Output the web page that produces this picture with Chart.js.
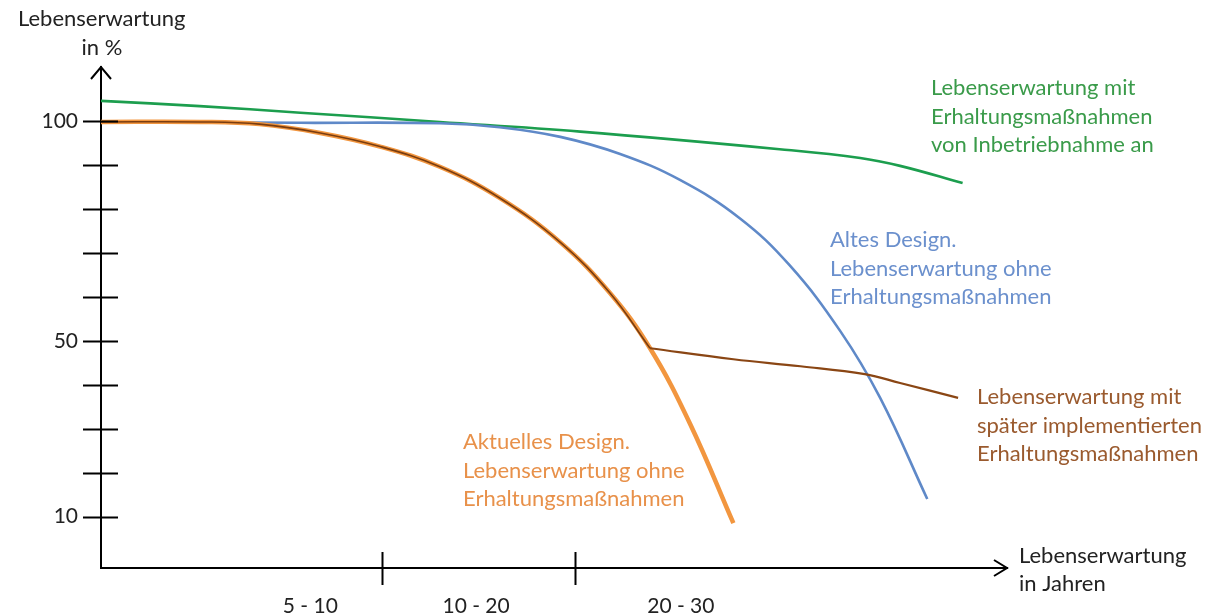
<!DOCTYPE html>
<html lang="de">
<head>
<meta charset="utf-8">
<title>Lebenserwartung</title>
<script src="https://cdn.jsdelivr.net/npm/chart.js@4.4.1/dist/chart.umd.min.js"></script>
<style>
  html, body { margin: 0; padding: 0; background: #fff; }
  #wrap { width: 1212px; height: 614px; position: relative; }
</style>
</head>
<body>
<div id="wrap"><canvas id="lifeChart"></canvas></div>
<script>
// x = time since commissioning (schematic units, 0..100), y = life expectancy in %
const greenX = [0, 10.9, 22.0, 37.4, 52.9, 74.9, 83.8, 88.2, 95.1];
const greenY = [104.6, 103.4, 101.9, 99.8, 97.6, 93.6, 91.6, 89.8, 85.9];

const blueX = [0, 22.0, 37.4, 44.0, 50.7, 57.3, 63.9, 70.5, 76.0, 81.6, 86.0, 91.2];
const blueY = [99.8, 99.6, 99.5, 98.6, 96.4, 92.5, 86.6, 77.9, 67.2, 52.2, 37.0, 14.0];

const orangeX = [0, 10.9, 17.5, 24.2, 30.8, 37.4, 44.0, 50.7, 56.2, 60.6, 65.0, 69.8];
const orangeY = [99.8, 99.8, 99.3, 97.3, 94.2, 89.6, 82.5, 72.4, 60.8, 48.3, 31.2, 8.5];

// brown follows the orange curve until maintenance starts, then flattens
const brownStart = 9; // index in orange arrays where maintenance begins
const brownLateX = [60.6, 69.8, 77.2, 84.3, 88.2, 94.6];
const brownLateY = [48.3, 45.8, 44.2, 42.4, 40.4, 37.0];

// axis ticks
const yMarks = [10, 20, 30, 40, 50, 60, 70, 80, 90, 100];
const yTickLabels = [10, 50, 100];
const xBounds = [31.0, 52.3];
const xTickPos = [23.1, 41.4, 64.0];
const xTickLabels = ['5 - 10', '10 - 20', '20 - 30'];

const FONT = 'Lato, "Open Sans", sans-serif';

function pts(xs, ys) {
    return xs.map((x, i) => ({ x: x, y: ys[i] }));
}

const notes = [
    { lines: ['Lebenserwartung mit', 'Erhaltungsmaßnahmen', 'von Inbetriebnahme an'], color: '#3a9b4a', x: 931, y: 88 },
    { lines: ['Altes Design.', 'Lebenserwartung ohne', 'Erhaltungsmaßnahmen'], color: '#6b90cd', x: 830, y: 240 },
    { lines: ['Lebenserwartung mit', 'später implementierten', 'Erhaltungsmaßnahmen'], color: '#9a5a2e', x: 977, y: 397 },
    { lines: ['Aktuelles Design.', 'Lebenserwartung ohne', 'Erhaltungsmaßnahmen'], color: '#e8914a', x: 463, y: 442 }
];

// axis arrows, crossing tick marks, titles and curve captions
const decorPlugin = {
    id: 'decor',
    afterDraw(chart) {
        const ctx = chart.ctx;
        const a = chart.chartArea;
        const xs = chart.scales.x;
        const ys = chart.scales.y;
        ctx.save();
        ctx.strokeStyle = '#000';
        ctx.lineWidth = 2;
        ctx.beginPath();
        yMarks.forEach(v => {
            const py = Math.round(ys.getPixelForValue(v)) + 0.5;
            ctx.moveTo(a.left - 18, py);
            ctx.lineTo(a.left + 17, py);
        });
        xBounds.forEach(v => {
            const px = Math.round(xs.getPixelForValue(v)) + 0.5;
            ctx.moveTo(px, a.bottom - 16);
            ctx.lineTo(px, a.bottom + 17);
        });
        // arrow heads
        ctx.moveTo(a.left - 10, a.top + 12);
        ctx.lineTo(a.left, a.top);
        ctx.lineTo(a.left + 10, a.top + 12);
        ctx.moveTo(a.right - 13, a.bottom - 8);
        ctx.lineTo(a.right, a.bottom);
        ctx.lineTo(a.right - 13, a.bottom + 8);
        ctx.stroke();

        ctx.font = '22px ' + FONT;
        ctx.textBaseline = 'middle';
        ctx.fillStyle = '#222';
        ctx.textAlign = 'left';
        ctx.fillText('Lebenserwartung', 18, 19);
        ctx.textAlign = 'center';
        ctx.fillText('in %', 102, 48);
        ctx.textAlign = 'left';
        ctx.fillText('Lebenserwartung', 1019, 556);
        ctx.fillText('in Jahren', 1019, 584);

        notes.forEach(n => {
            ctx.fillStyle = n.color;
            n.lines.forEach((t, i) => ctx.fillText(t, n.x, n.y + i * 28.5));
        });
        ctx.restore();
    }
};

new Chart(document.getElementById('lifeChart'), {
    type: 'line',
    data: {
        datasets: [
            {
                label: 'Späte Erhaltung (Anfang)',
                data: pts(orangeX.slice(0, brownStart + 1), orangeY.slice(0, brownStart + 1)),
                borderColor: '#7a3d10',
                borderWidth: 1.6
            },
            {
                label: 'Späte Erhaltung',
                data: pts(brownLateX, brownLateY),
                borderColor: '#8a4614',
                borderWidth: 2.2
            },
            {
                label: 'Aktuelles Design',
                data: pts(orangeX, orangeY),
                borderColor: '#f2963f',
                borderWidth: 4.5
            },
            {
                label: 'Altes Design',
                data: pts(blueX, blueY),
                borderColor: '#5f89c8',
                borderWidth: 2.6
            },
            {
                label: 'Erhaltung ab Inbetriebnahme',
                data: pts(greenX, greenY),
                borderColor: '#1c9e4e',
                borderWidth: 2.6
            }
        ]
    },
    options: {
        responsive: true,
        maintainAspectRatio: false,
        animation: false,
        layout: {
            padding: { top: 67, right: 205, bottom: 0, left: 0 }
        },
        elements: {
            point: { radius: 0 },
            line: { tension: 0.4, fill: false, borderCapStyle: 'butt' }
        },
        scales: {
            x: {
                type: 'linear',
                min: 0,
                max: 100,
                afterFit: function(scale) { scale.height = 46; },
                afterBuildTicks: function(scale) {
                    scale.ticks = xTickPos.map(v => ({ value: v }));
                },
                ticks: {
                    autoSkip: false,
                    maxRotation: 0,
                    padding: 18,
                    color: '#222',
                    font: { family: FONT, size: 21 },
                    callback: function(value, index) { return xTickLabels[index]; }
                },
                grid: { display: false },
                border: { display: true, color: '#000', width: 2 }
            },
            y: {
                type: 'linear',
                min: -1.7,
                max: 112.3,
                afterFit: function(scale) { scale.width = 101; },
                afterBuildTicks: function(scale) {
                    scale.ticks = yTickLabels.map(v => ({ value: v }));
                },
                ticks: {
                    autoSkip: false,
                    padding: 15,
                    color: '#222',
                    font: { family: FONT, size: 21 },
                    callback: function(value) { return String(value); }
                },
                grid: { display: false },
                border: { display: true, color: '#000', width: 2 }
            }
        },
        plugins: {
            legend: { display: false },
            tooltip: { enabled: false }
        }
    },
    plugins: [decorPlugin]
});
</script>
</body>
</html>
